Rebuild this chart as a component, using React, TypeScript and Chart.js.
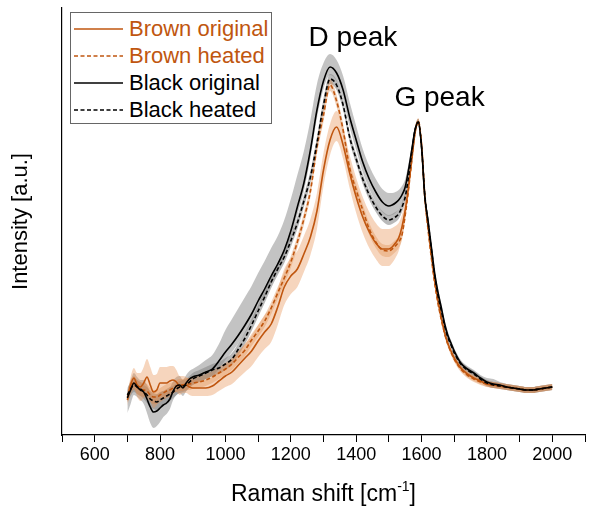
import { useEffect, useRef } from 'react';
import { Chart, registerables } from 'chart.js';
Chart.register(...registerables);

const FONT = '"Liberation Sans", Arial, sans-serif';
const BROWN = '#C0560F';

// Raman shift grid [cm-1]
const shift = [
  700, 710, 720, 730, 740, 750, 760, 770, 780, 790, 800, 810, 820, 830, 840, 850, 860, 870, 880, 890, 900,
  920, 940, 960, 980, 1000, 1020, 1040, 1060, 1080, 1100, 1120, 1140, 1160, 1180, 1200, 1220, 1240, 1260, 1280, 1300,
  1320, 1340, 1360, 1380, 1400, 1420, 1440, 1460, 1480, 1500,
  1510, 1520, 1530, 1540, 1550, 1560, 1570, 1580, 1590, 1600, 1610, 1620, 1630, 1640, 1650, 1660, 1670, 1680, 1690, 1700,
  1720, 1740, 1760, 1780, 1800, 1820, 1840, 1860, 1880, 1900, 1920, 1940, 1960, 1980, 2000,
];

// mean spectra (arbitrary units)
const blackOriginal = [
  37, 45, 52, 48, 45, 43, 36, 28, 23, 24, 27, 30, 32, 36, 44, 49, 50, 47, 52, 56, 58,
  60, 63, 66, 74, 83, 91, 100, 110, 121, 134, 146, 159, 171, 185, 204, 228, 252, 285, 325, 354,
  368, 362, 345, 318, 295, 273, 256, 243, 233, 229,
  230, 232, 235, 240, 248, 265, 285, 305, 313, 288, 238, 214, 188, 162, 143, 128, 112, 100, 92, 84,
  72, 66, 62, 57, 53, 51, 50, 48, 47, 46, 45, 45, 46, 47, 48,
];
const blackHeated = [
  40, 46, 50, 48, 46, 43, 40, 36, 34, 33, 35, 37, 39, 41, 43, 46, 48, 49, 50, 53, 56,
  59, 62, 65, 67, 71, 76, 86, 97, 110, 124, 138, 153, 166, 178, 194, 212, 234, 258, 292, 330,
  356, 350, 330, 298, 276, 256, 240, 228, 219, 215,
  216, 218, 221, 228, 238, 258, 282, 305, 313, 288, 240, 212, 186, 160, 140, 125, 110, 98, 90, 82,
  71, 65, 61, 56, 52, 50, 49, 48, 47, 46, 45, 45, 46, 47, 48,
];
const brownOriginal = [
  35, 50, 57, 50, 48, 52, 58, 50, 43, 45, 52, 52, 52, 54, 55, 53, 49, 50, 50, 48, 47,
  47, 47, 49, 54, 59, 63, 70, 77, 84, 94, 103, 111, 128, 148, 159, 166, 181, 198, 224, 265,
  295, 308, 290, 262, 238, 218, 203, 192, 186, 186,
  188, 192, 197, 208, 225, 248, 275, 302, 313, 290, 238, 208, 180, 155, 135, 118, 103, 92, 84, 77,
  67, 61, 57, 54, 51, 50, 49, 48, 47, 46, 45, 45, 46, 47, 48,
];
const brownHeated = [
  38, 48, 52, 48, 46, 45, 44, 40, 38, 38, 40, 42, 44, 45, 47, 49, 50, 50, 51, 51, 52,
  53, 55, 58, 62, 66, 71, 78, 85, 95, 104, 114, 127, 142, 157, 173, 193, 216, 244, 288, 320,
  350, 334, 305, 267, 245, 225, 206, 193, 185, 184,
  186, 189, 193, 200, 220, 245, 275, 303, 314, 290, 238, 205, 177, 152, 132, 116, 102, 91, 83, 76,
  66, 60, 56, 53, 51, 50, 49, 48, 47, 46, 45, 45, 46, 47, 48,
];

// spread of the shaded bands (above / below the mean)
const blackOrigUp = [
  8, 9, 10, 10, 10, 12, 14, 15, 16, 16, 15, 14, 12, 11, 10, 9, 9, 8, 8, 8, 8,
  10, 12, 14, 17, 22, 25, 27, 28, 28, 28, 28, 28, 28, 30, 32, 32, 32, 30, 26, 18,
  13, 13, 14, 15, 14, 13, 13, 13, 13, 13,
  12, 11, 10, 9, 8, 6, 4, 3, 3, 3, 4, 4, 4, 4, 4, 4, 4, 4, 3, 3,
  3, 3, 3, 3, 4, 5, 3, 3, 3, 3, 3, 3, 3, 3, 3,
];
const blackOrigDown = [
  15, 14, 12, 10, 10, 12, 14, 16, 16, 15, 14, 12, 11, 10, 9, 9, 8, 8, 8, 8, 8,
  7, 7, 7, 8, 8, 8, 8, 8, 8, 8, 8, 8, 8, 8, 8, 8, 8, 8, 8, 8,
  8, 8, 9, 10, 10, 10, 10, 10, 10, 10,
  10, 10, 9, 8, 7, 5, 4, 3, 3, 3, 4, 4, 4, 4, 4, 4, 4, 4, 3, 3,
  3, 3, 3, 3, 4, 4, 3, 3, 3, 3, 3, 3, 3, 3, 3,
];
const blackHeatedSd = [
  7, 7, 7, 7, 7, 7, 8, 8, 8, 8, 8, 7, 7, 7, 6, 6, 6, 6, 6, 6, 6,
  6, 6, 6, 6, 6, 6, 6, 6, 6, 6, 6, 6, 6, 6, 6, 6, 6, 6, 6, 6,
  5, 5, 5, 5, 5, 5, 5, 5, 5, 5,
  5, 5, 5, 5, 5, 4, 3, 3, 3, 3, 3, 3, 3, 3, 3, 3, 3, 3, 3, 3,
  3, 3, 3, 3, 3, 3, 3, 3, 3, 3, 3, 3, 3, 3, 3,
];
const brownOrigUp = [
  6, 8, 10, 12, 14, 16, 18, 18, 17, 16, 16, 16, 16, 15, 14, 12, 10, 9, 8, 8, 8,
  8, 8, 9, 10, 11, 12, 13, 14, 15, 16, 17, 18, 18, 18, 18, 18, 18, 18, 18, 17,
  16, 16, 17, 18, 19, 20, 20, 20, 20, 20,
  19, 17, 15, 12, 10, 8, 6, 4, 3, 3, 3, 3, 3, 3, 3, 3, 3, 3, 3, 3,
  3, 3, 3, 3, 3, 3, 3, 3, 3, 3, 3, 3, 3, 3, 3,
];
const brownOrigDown = [
  6, 8, 10, 12, 14, 15, 16, 16, 16, 15, 15, 15, 14, 13, 12, 10, 9, 8, 8, 8, 8,
  8, 8, 9, 10, 11, 12, 13, 14, 15, 16, 17, 18, 18, 18, 18, 18, 18, 18, 18, 16,
  15, 14, 14, 15, 16, 16, 16, 16, 17, 17,
  16, 15, 13, 11, 9, 7, 5, 4, 3, 3, 3, 3, 3, 3, 3, 3, 3, 3, 3, 3,
  3, 3, 3, 3, 3, 3, 3, 3, 3, 3, 3, 3, 3, 3, 3,
];
const brownHeatedSd = [
  6, 7, 7, 7, 7, 7, 7, 7, 7, 7, 7, 7, 7, 7, 6, 6, 6, 6, 6, 6, 6,
  6, 6, 6, 6, 6, 6, 6, 6, 6, 6, 6, 6, 6, 6, 6, 6, 6, 6, 7, 7,
  6, 6, 6, 6, 6, 6, 6, 6, 6, 6,
  6, 6, 6, 5, 5, 4, 3, 3, 3, 3, 3, 3, 3, 3, 3, 3, 3, 3, 3, 3,
  3, 3, 3, 3, 3, 3, 3, 3, 3, 3, 3, 3, 3, 3, 3,
];

const peakLabels = [
  { text: 'D peak', x: 1390, y: 389 },
  { text: 'G peak', x: 1655, y: 329 },
];

const legendItems = [
  { label: 'Brown original', color: BROWN, dash: false },
  { label: 'Brown heated', color: BROWN, dash: true },
  { label: 'Black original', color: '#000', dash: false },
  { label: 'Black heated', color: '#000', dash: true },
];

const pts = (ys: number[]) => shift.map((x, i) => ({ x, y: ys[i] }));
const edge = (ys: number[], d: number[], sign: number) => shift.map((x, i) => ({ x, y: ys[i] + sign * d[i] }));

const lineDs = (label: string, ys: number[], color: string, dash: boolean) => ({
  label,
  data: pts(ys),
  borderColor: color,
  borderWidth: 1.6,
  borderDash: dash ? [4, 2.5] : [],
  pointRadius: 0,
  fill: false,
  order: 0,
  cubicInterpolationMode: 'monotone' as const,
});

const bandDs = (ys: number[], up: number[], down: number[], color: string, order: number) => [
  {
    label: 'hi',
    data: edge(ys, up, 1),
    borderWidth: 0,
    pointRadius: 0,
    fill: false,
    order,
    cubicInterpolationMode: 'monotone' as const,
  },
  {
    label: 'lo',
    data: edge(ys, down, -1),
    borderWidth: 0,
    pointRadius: 0,
    fill: '-1',
    backgroundColor: color,
    order,
    cubicInterpolationMode: 'monotone' as const,
  },
];

const annotations = {
  id: 'annotations',
  afterDraw(chart: any) {
    const { ctx, chartArea, scales } = chart;
    const xs = scales.x;
    const ys = scales.y;
    ctx.save();
    ctx.fillStyle = '#000';
    ctx.textBaseline = 'alphabetic';
    ctx.font = `28px ${FONT}`;
    ctx.textAlign = 'center';
    for (const l of peakLabels) {
      ctx.fillText(l.text, xs.getPixelForValue(l.x), ys.getPixelForValue(l.y));
    }
    // x axis title with superscript
    const main = 'Raman shift [cm';
    const sup = '-1';
    const end = ']';
    ctx.textAlign = 'left';
    ctx.font = `23px ${FONT}`;
    const wMain = ctx.measureText(main).width;
    const wEnd = ctx.measureText(end).width;
    ctx.font = `14px ${FONT}`;
    const wSup = ctx.measureText(sup).width;
    const cx = (chartArea.left + chartArea.right) / 2;
    let x0 = cx - (wMain + wSup + wEnd) / 2;
    const base = 501;
    ctx.font = `23px ${FONT}`;
    ctx.fillText(main, x0, base);
    x0 += wMain;
    ctx.font = `14px ${FONT}`;
    ctx.fillText(sup, x0, base - 10);
    x0 += wSup;
    ctx.font = `23px ${FONT}`;
    ctx.fillText(end, x0, base);
    ctx.restore();
  },
};

export default function App() {
  const canvasRef = useRef<HTMLCanvasElement>(null);

  useEffect(() => {
    const chart = new Chart(canvasRef.current!, {
      type: 'line',
      data: {
        datasets: [
          lineDs('Black original', blackOriginal, '#000', false),
          lineDs('Black heated', blackHeated, '#000', true),
          lineDs('Brown original', brownOriginal, BROWN, false),
          lineDs('Brown heated', brownHeated, BROWN, true),
          ...bandDs(brownOriginal, brownOrigUp, brownOrigDown, 'rgba(232,150,90,0.40)', 1),
          ...bandDs(brownHeated, brownHeatedSd, brownHeatedSd, 'rgba(215,120,50,0.33)', 1),
          ...bandDs(blackOriginal, blackOrigUp, blackOrigDown, 'rgba(140,140,140,0.52)', 2),
          ...bandDs(blackHeated, blackHeatedSd, blackHeatedSd, 'rgba(100,100,100,0.45)', 2),
        ] as any,
      },
      options: {
        responsive: false,
        animation: false,
        events: [],
        layout: { padding: { left: 0, right: 15, top: 8, bottom: 0 } },
        plugins: { legend: { display: false }, tooltip: { enabled: false } },
        scales: {
          x: {
            type: 'linear',
            min: 500,
            max: 2100,
            afterFit: (s: any) => { s.height = 83; },
            ticks: {
              stepSize: 100,
              autoSkip: false,
              maxRotation: 0,
              padding: 2,
              color: '#000',
              font: { size: 18, family: FONT },
              callback: (v: any) => (Number(v) % 200 === 0 ? String(v) : ''),
            },
            grid: { drawOnChartArea: false, drawTicks: true, tickLength: 7, color: '#000', lineWidth: 1 },
            border: { display: true, color: '#000', width: 1.2 },
          },
          y: {
            type: 'linear',
            min: 0,
            max: 427,
            afterFit: (s: any) => { s.width = 62; },
            ticks: { display: false },
            grid: { display: false },
            border: { display: true, color: '#000', width: 1.2 },
            title: {
              display: true,
              text: 'Intensity [a.u.]',
              color: '#000',
              font: { size: 22, family: FONT },
              padding: { top: 8, bottom: 0 },
            },
          },
        },
      },
      plugins: [annotations],
    });
    return () => chart.destroy();
  }, []);

  return (
    <div style={{ position: 'absolute', left: 0, top: 0, width: 600, height: 518, background: '#fff', fontFamily: FONT }}>
      <canvas ref={canvasRef} width={600} height={518} />
      <div
        style={{
          position: 'absolute', left: 70, top: 12, width: 202, height: 112,
          border: '1px solid #666', background: '#fff', boxSizing: 'border-box',
        }}
      >
        {legendItems.map((it, i) => (
          <div key={it.label} style={{ position: 'absolute', left: 2, top: 4 + i * 27, height: 24, display: 'flex', alignItems: 'center' }}>
            <svg width={50} height={24} style={{ display: 'block' }}>
              <line x1={1} y1={12} x2={50} y2={12} stroke={it.color} strokeWidth={1.6} strokeDasharray={it.dash ? '4 2.5' : undefined} />
            </svg>
            <span style={{ marginLeft: 6, fontSize: 22, color: it.color, whiteSpace: 'nowrap', lineHeight: '24px' }}>{it.label}</span>
          </div>
        ))}
      </div>
    </div>
  );
}
